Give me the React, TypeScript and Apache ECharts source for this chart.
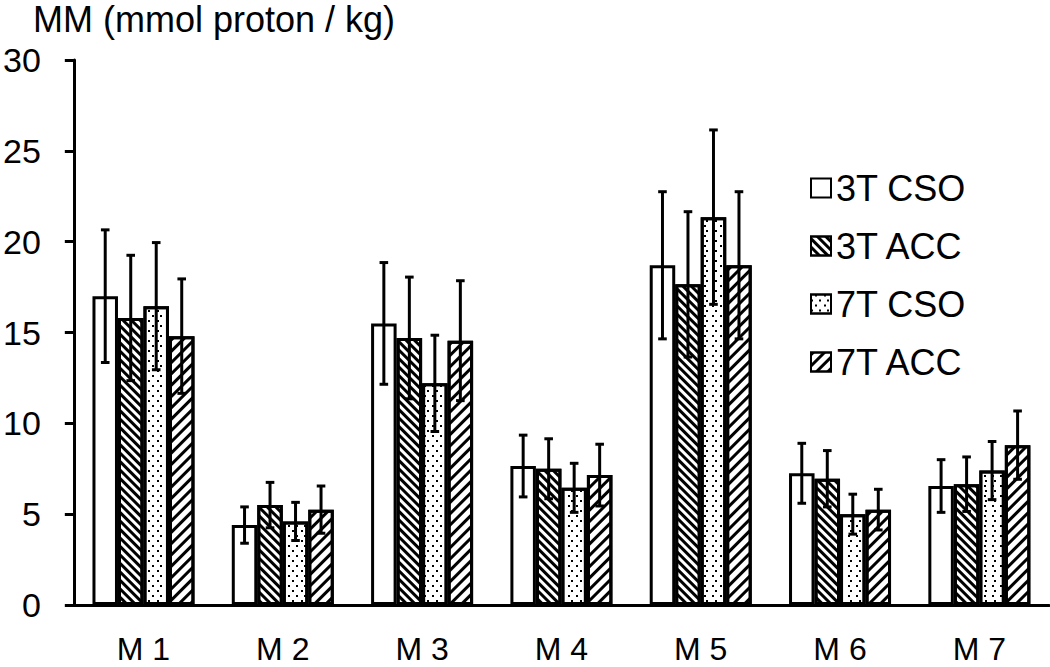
import {useEffect, useRef} from "react";
import * as echarts from "echarts";

const categories = ["M 1", "M 2", "M 3", "M 4", "M 5", "M 6", "M 7"];
const seriesNames = ["3T CSO", "3T ACC", "7T CSO", "7T ACC"];

const cso3T = [17.0, 4.4, 15.5, 7.65, 18.7, 7.25, 6.55];
const acc3T = [15.8, 5.5, 14.7, 7.5, 17.65, 6.95, 6.65];
const cso7T = [16.45, 4.6, 12.2, 6.45, 21.35, 5.0, 7.4];
const acc7T = [14.8, 5.25, 14.55, 7.15, 18.7, 5.25, 8.8];

const cso3TErr = [3.65, 1.0, 3.35, 1.7, 4.05, 1.65, 1.45];
const acc3TErr = [3.45, 1.25, 3.35, 1.65, 4.0, 1.55, 1.5];
const cso7TErr = [3.5, 1.05, 2.65, 1.35, 4.8, 1.1, 1.6];
const acc7TErr = [3.15, 1.3, 3.3, 1.7, 4.05, 1.12, 1.88];

const values = [cso3T, acc3T, cso7T, acc7T];
const errors = [cso3TErr, acc3TErr, cso7TErr, acc7TErr];

const FONT = "'Liberation Sans', Arial, sans-serif";
const BAR_W = 25.5;
const LINE_W = 3;

// hatch fills: none, dense "\\\", sparse dots, wide "///"
const decals: any[] = [
    undefined,
    {symbol: "rect", symbolSize: 1, color: "#000", backgroundColor: "#fff", dashArrayX: [1, 0], dashArrayY: [2.2, 2.2], rotation: Math.PI / 4},
    {symbol: "rect", symbolSize: 1, color: "#000", backgroundColor: "#fff", dashArrayX: [[1.4, 5.6], [0, 3.5, 1.4, 2.1]], dashArrayY: [1.4, 2.1], rotation: 0},
    {symbol: "rect", symbolSize: 1, color: "#000", backgroundColor: "#fff", dashArrayX: [1, 0], dashArrayY: [2.8, 4.2], rotation: -Math.PI / 4},
];

export default function App() {
    const domRef = useRef<HTMLDivElement>(null);

    useEffect(() => {
        if (!domRef.current) return;
        const chart = echarts.init(domRef.current, null, {renderer: "svg"});

        const bars = seriesNames.map((name, i) => ({
            name,
            type: "bar",
            data: values[i],
            barWidth: BAR_W,
            barGap: "0%",
            itemStyle: {color: "#fff", borderColor: "#000", borderWidth: LINE_W, decal: decals[i]},
            z: 2,
        }));

        const errBars = seriesNames.map((name, i) => ({
            name: name + " err",
            type: "custom",
            z: 5,
            data: values[i].map((v, ci) => [ci, v, errors[i][ci]]),
            encode: {x: 0, y: 1},
            renderItem: (_params: any, api: any) => {
                const ci = api.value(0);
                const v = api.value(1);
                const e = api.value(2);
                const top = api.coord([ci, v + e]);
                const bot = api.coord([ci, v - e]);
                const x = top[0] + (i - 1.5) * BAR_W;
                const style = {stroke: "#000", lineWidth: LINE_W};
                const cap = 4.3;
                return {
                    type: "group",
                    children: [
                        {type: "line", shape: {x1: x, y1: top[1], x2: x, y2: bot[1]}, style},
                        {type: "line", shape: {x1: x - cap, y1: top[1], x2: x + cap, y2: top[1]}, style},
                        {type: "line", shape: {x1: x - cap, y1: bot[1], x2: x + cap, y2: bot[1]}, style},
                    ],
                };
            },
        }));

        chart.setOption({
            animation: false,
            textStyle: {fontFamily: FONT, color: "#000"},
            grid: {left: 73, top: 60, bottom: 62, width: 976},
            graphic: [
                {type: "text", left: 33, top: 1, style: {text: "MM (mmol proton / kg)", fontSize: 36, fontFamily: FONT, fill: "#000"}},
            ],
            legend: {
                data: seriesNames,
                orient: "vertical",
                left: 810,
                top: 170,
                padding: 0,
                itemWidth: 20,
                itemHeight: 19,
                itemGap: 22,
                icon: "rect",
                textStyle: {fontSize: 36, lineHeight: 36, fontFamily: FONT, color: "#000"},
            },
            xAxis: {
                type: "category",
                data: categories,
                axisLine: {lineStyle: {color: "#000", width: LINE_W}},
                axisTick: {show: false},
                axisLabel: {fontSize: 32, fontFamily: FONT, color: "#000", margin: 28},
            },
            yAxis: {
                type: "value",
                min: 0,
                max: 30,
                interval: 5,
                axisLine: {show: true, lineStyle: {color: "#000", width: LINE_W}},
                axisTick: {show: true, length: 9, lineStyle: {color: "#000", width: LINE_W}},
                splitLine: {show: false},
                axisLabel: {fontSize: 34, fontFamily: FONT, color: "#000", margin: 33},
            },
            series: [...bars, ...errBars],
        });

        return () => chart.dispose();
    }, []);

    return <div ref={domRef} style={{position: "absolute", left: 0, top: 0, width: 1050, height: 667}} />;
}
